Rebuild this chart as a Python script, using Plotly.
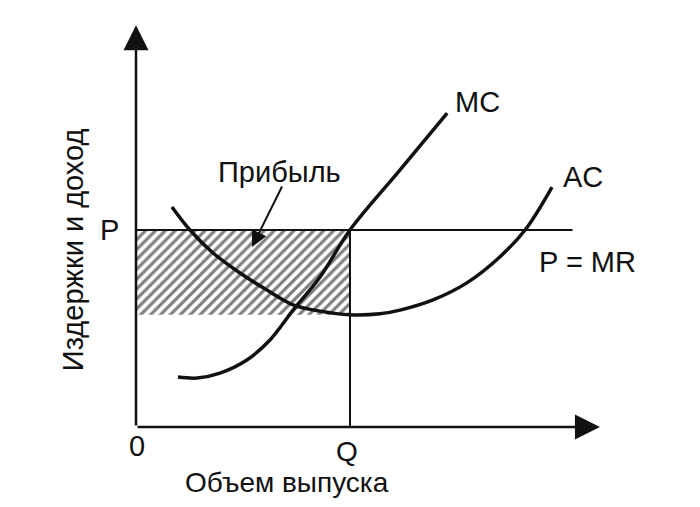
import plotly.graph_objects as go

# ---- data (economic diagram, in chart units) ----
P = 6.0          # price level
Q = 5.0          # output quantity
AC_AT_Q = 3.42   # average cost at Q (bottom of profit rectangle)
PMR_END = 10.2   # extent of the P = MR line
X_AXIS_END = 10.84
Y_AXIS_END = 12.24

mc_x = [0.98, 1.43, 1.96, 2.59, 3.13, 3.67, 4.30, 5.00, 6.17, 7.27]
mc_y = [1.52, 1.49, 1.64, 2.04, 2.65, 3.56, 4.57, 6.00, 7.83, 9.56]

ac_x = [0.84, 1.26, 1.80, 2.43, 3.06, 3.67, 4.30, 5.00, 5.70, 6.17, 6.94, 7.73, 8.50, 9.09, 9.72]
ac_y = [6.70, 6.00, 5.30, 4.69, 4.17, 3.72, 3.53, 3.42, 3.45, 3.56, 3.87, 4.39, 5.18, 6.00, 7.31]

labels = {
    "P": "P", "zero": "0", "Q": "Q", "MC": "MC", "AC": "AC",
    "PMR": "P = MR", "profit": "Прибыль",
    "xtitle": "Объем выпуска", "ytitle": "Издержки и доход",
}

# ---- pixel scale (plot area == whole figure) ----
W, H = 700, 507
ORIGIN_PX = (136, 427)
KX, KY = 42.8, 32.83
x_range = [-ORIGIN_PX[0] / KX, (W - ORIGIN_PX[0]) / KX]
y_range = [-(H - ORIGIN_PX[1]) / KY, ORIGIN_PX[1] / KY]

FONT = "Liberation Sans, Arial, sans-serif"
INK = "#111111"

fig = go.Figure()

# profit rectangle (hatched)
fig.add_trace(go.Scatter(
    x=[0, Q, Q, 0, 0], y=[AC_AT_Q, AC_AT_Q, P, P, AC_AT_Q],
    mode="lines", fill="toself", line=dict(width=0, color="rgba(0,0,0,0)"),
    fillcolor="white",
    fillpattern=dict(shape="/", fgcolor="#000000", bgcolor="white", size=7, solidity=0.45),
    hoverinfo="skip", showlegend=False))

# P = MR line
fig.add_trace(go.Scatter(x=[0, PMR_END], y=[P, P], mode="lines",
                         line=dict(color=INK, width=2), showlegend=False))
# Q vertical
fig.add_trace(go.Scatter(x=[Q, Q], y=[0, P], mode="lines",
                         line=dict(color=INK, width=2), showlegend=False))
# AC curve
fig.add_trace(go.Scatter(x=ac_x, y=ac_y, mode="lines", line_shape="spline",
                         line=dict(color=INK, width=3.5), showlegend=False))
# MC curve
fig.add_trace(go.Scatter(x=mc_x, y=mc_y, mode="lines", line_shape="spline",
                         line=dict(color=INK, width=3.5), showlegend=False))

ann = []
# axes with arrowheads
ann.append(dict(x=0, y=Y_AXIS_END, ax=0, ay=0, xref="x", yref="y", axref="x", ayref="y",
                text="", showarrow=True, arrowhead=2, arrowsize=2, arrowwidth=2.5, arrowcolor=INK))
ann.append(dict(x=X_AXIS_END, y=0, ax=0, ay=0, xref="x", yref="y", axref="x", ayref="y",
                text="", showarrow=True, arrowhead=2, arrowsize=2, arrowwidth=2.5, arrowcolor=INK))
# profit pointer
ann.append(dict(x=2.71, y=5.48, ax=3.43, ay=7.37, xref="x", yref="y", axref="x", ayref="y",
                text="", showarrow=True, arrowhead=2, arrowsize=1.6, arrowwidth=2, arrowcolor=INK))

def txt(key, x, y, angle=0, size=29):
    ann.append(dict(x=x, y=y, xref="x", yref="y", text=labels[key], showarrow=False,
                    textangle=angle, font=dict(family=FONT, size=size, color=INK),
                    xanchor="center", yanchor="middle", borderpad=0))

txt("P", -0.61, 6.0)
txt("zero", 0.02, -0.58)
txt("Q", 4.93, -0.76, size=28)
txt("MC", 7.99, 9.9)
txt("AC", 10.44, 7.61)
txt("PMR", 10.56, 5.03)
txt("profit", 3.36, 7.77)
txt("xtitle", 3.53, -1.70, size=28)
txt("ytitle", -1.47, 5.39, angle=-90)

fig.update_layout(
    width=W, height=H, margin=dict(l=0, r=0, t=0, b=0),
    paper_bgcolor="white", plot_bgcolor="white",
    xaxis=dict(range=x_range, visible=False, fixedrange=True),
    yaxis=dict(range=y_range, visible=False, fixedrange=True),
    annotations=ann, showlegend=False,
)

fig.write_html("out.html", config={"displayModeBar": False},
               post_script="document.body.style.margin='0';")
